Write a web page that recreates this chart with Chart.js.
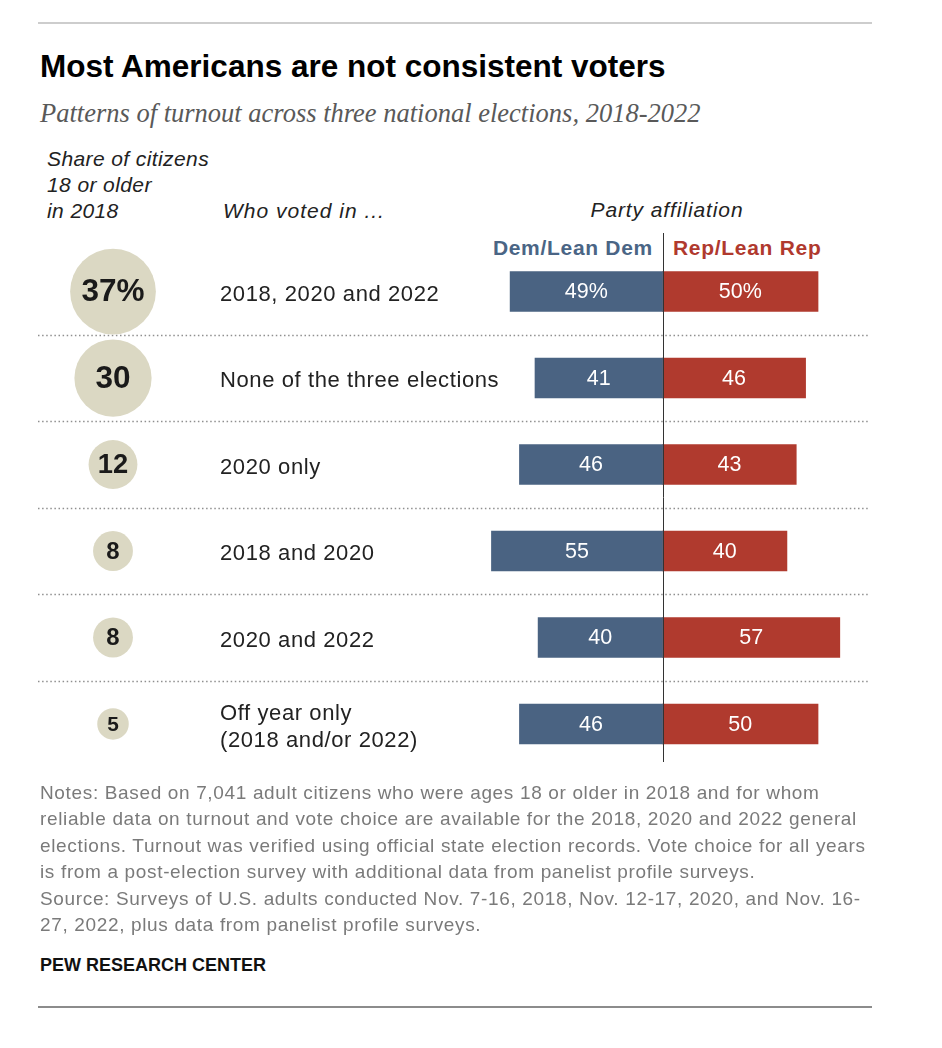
<!DOCTYPE html>
<html>
<head>
<meta charset="utf-8">
<script src="https://cdn.jsdelivr.net/npm/chart.js@4.4.1/dist/chart.umd.min.js"></script>
<style>
body { margin: 0; background: #fff; width: 942px; height: 1048px; position: relative; overflow: hidden;
       font-family: "Liberation Sans", Arial, sans-serif; color: #222; }
.abs { position: absolute; white-space: nowrap; }
#title { left: 40px; top: 48px; font-size: 31.5px; line-height: 36px; font-weight: bold; color: #000; }
#subtitle { left: 40px; top: 97.5px; font-size: 26.5px; line-height: 30px; font-style: italic; color: #595959;
            font-family: "Liberation Serif", "Times New Roman", serif; }
.hdr { font-size: 21px; line-height: 26px; font-style: italic; color: #222; letter-spacing: 0.4px; }
.party { font-size: 21px; line-height: 26px; font-weight: bold; letter-spacing: 0.7px; }
#notes { left: 40px; top: 779.5px; font-size: 19px; line-height: 26.6px; color: #7a7a7a; letter-spacing: 0.65px; }
#pew { left: 40px; top: 953px; font-size: 18px; line-height: 24px; font-weight: bold; color: #111; }
.rule { position: absolute; left: 38px; width: 834px; }
canvas { position: absolute; }
</style>
</head>
<body>
<div class="rule" style="top:22px;height:2px;background:#cdcdcd"></div>
<div id="title" class="abs">Most Americans are not consistent voters</div>
<div id="subtitle" class="abs">Patterns of turnout across three national elections, 2018-2022</div>
<div class="abs hdr" style="left:47px;top:146px">Share of citizens<br>18 or older<br>in 2018</div>
<div class="abs hdr" style="left:223px;top:198px;letter-spacing:1px">Who voted in ...</div>
<div class="abs hdr" style="left:547px;top:197px;width:240px;text-align:center;letter-spacing:0.9px">Party affiliation</div>
<div class="abs party" style="left:433px;top:235px;width:220px;text-align:right;color:#4a6585">Dem/Lean Dem</div>
<div class="abs party" style="left:673px;top:235px;color:#b0392e">Rep/Lean Rep</div>

<canvas id="bars" width="834" height="590" style="left:38px;top:200px"></canvas>
<canvas id="shares" width="180" height="590" style="left:23px;top:200px"></canvas>

<div id="notes" class="abs">Notes: Based on 7,041 adult citizens who were ages 18 or older in 2018 and for whom<br>reliable data on turnout and vote choice are available for the 2018, 2020 and 2022 general<br>elections. Turnout was verified using official state election records. Vote choice for all years<br>is from a post-election survey with additional data from panelist profile surveys.<br>Source: Surveys of U.S. adults conducted Nov. 7-16, 2018, Nov. 12-17, 2020, and Nov. 16-<br>27, 2022, plus data from panelist profile surveys.</div>
<div id="pew" class="abs">PEW RESEARCH CENTER</div>
<div class="rule" style="top:1006px;height:1.5px;background:#8c8c8c"></div>

<script>
let rowLabels = ["2018, 2020 and 2022", "None of the three elections", "2020 only",
    "2018 and 2020", "2020 and 2022", ["Off year only", "(2018 and/or 2022)"]];
let shares = [37, 30, 12, 8, 8, 5];
let demValues = [49, 41, 46, 55, 40, 46];
let repValues = [50, 46, 43, 40, 57, 50];

const FONT = '"Liberation Sans", Arial, sans-serif';
const PAD = {top: 48.3, bottom: 22.8};

// dotted separators, row labels, center line and bar labels
let barDecor = {
    id: 'barDecor',
    beforeDatasetsDraw(chart) {
        let ctx = chart.ctx;
        let y = chart.scales.y;
        ctx.save();
        ctx.strokeStyle = "#8f8f8f";
        ctx.lineWidth = 1.5;
        ctx.setLineDash([1.5, 2.6]);
        for (let i = 0; i < rowLabels.length - 1; i++) {
            let py = Math.round((y.getPixelForValue(i) + y.getPixelForValue(i + 1)) / 2) + 0.5;
            ctx.beginPath();
            ctx.moveTo(0, py);
            ctx.lineTo(830, py);
            ctx.stroke();
        }
        ctx.setLineDash([]);

        // row labels, placed with the category scale
        ctx.fillStyle = "#222";
        ctx.font = "22px " + FONT;
        ctx.letterSpacing = "0.6px";
        ctx.textAlign = "left";
        ctx.textBaseline = "middle";
        chart.data.labels.forEach(function (lab, i) {
            let lines = Array.isArray(lab) ? lab : [lab];
            let cy = y.getPixelForValue(i) + 3;
            lines.forEach(function (t, k) {
                ctx.fillText(t, 182, cy + (k - (lines.length - 1) / 2) * 27);
            });
        });
        ctx.letterSpacing = "0px";
        ctx.restore();
    },
    afterDatasetsDraw(chart) {
        let ctx = chart.ctx;
        ctx.save();
        ctx.fillStyle = "#fff";
        ctx.font = "21.5px " + FONT;
        ctx.textAlign = "center";
        ctx.textBaseline = "middle";
        chart.data.datasets.forEach(function (ds, d) {
            chart.getDatasetMeta(d).data.forEach(function (bar, i) {
                let v = Math.abs(ds.data[i]);
                let txt = i === 0 ? v + "%" : "" + v;
                ctx.fillText(txt, (bar.x + bar.base) / 2, bar.y + 1);
            });
        });
        let x0 = Math.round(chart.scales.x.getPixelForValue(0)) + 0.5;
        ctx.strokeStyle = "#333";
        ctx.lineWidth = 1;
        ctx.beginPath();
        ctx.moveTo(x0, 33);
        ctx.lineTo(x0, 562);
        ctx.stroke();
        ctx.restore();
    }
};

new Chart(document.getElementById("bars").getContext("2d"), {
    type: "bar",
    data: {
        labels: rowLabels,
        datasets: [
            {
                label: "Dem/Lean Dem",
                data: demValues.map(v => -v),
                backgroundColor: "#4a6382",
                grouped: false,
                barThickness: 40,
            },
            {
                label: "Rep/Lean Rep",
                data: repValues,
                backgroundColor: "#b03a2e",
                grouped: false,
                barThickness: 40,
            }
        ]
    },
    options: {
        indexAxis: "y",
        responsive: false,
        animation: false,
        events: [],
        layout: {
            autoPadding: false,
            padding: {top: PAD.top, bottom: PAD.bottom, left: 437.9, right: 4.2}
        },
        scales: {
            x: {type: "linear", min: -60, max: 66, display: false},
            y: {display: false}
        },
        plugins: {
            legend: {display: false},
            tooltip: {enabled: false}
        }
    },
    plugins: [barDecor]
});

// numbers inside the circles
let bubbleText = {
    id: 'bubbleText',
    afterDatasetsDraw(chart) {
        let ctx = chart.ctx;
        ctx.save();
        ctx.fillStyle = "#1a1a1a";
        ctx.textAlign = "center";
        ctx.textBaseline = "middle";
        chart.getDatasetMeta(0).data.forEach(function (pt, i) {
            let r = pt.options.radius;
            let size = Math.min(31.5, r * 0.75 + 9);
            ctx.font = "bold " + size + "px " + FONT;
            ctx.fillText(i === 0 ? shares[i] + "%" : "" + shares[i], pt.x, pt.y + 1);
        });
        ctx.restore();
    }
};

new Chart(document.getElementById("shares").getContext("2d"), {
    type: "bubble",
    data: {
        datasets: [{
            label: "Share of citizens",
            data: shares.map((v, i) => ({x: 0, y: i})),
            backgroundColor: "#dbd8c3",
            borderWidth: 0,
            clip: false,
            radius: ctx => 7.05 * Math.sqrt(shares[ctx.dataIndex]),
        }]
    },
    options: {
        responsive: false,
        animation: false,
        events: [],
        layout: {autoPadding: false, padding: {top: PAD.top, bottom: PAD.bottom, left: 0, right: 0}},
        scales: {
            x: {min: -1, max: 1, display: false},
            y: {min: -0.5, max: 5.5, reverse: true, display: false}
        },
        plugins: {
            legend: {display: false},
            tooltip: {enabled: false}
        }
    },
    plugins: [bubbleText]
});
</script>
</body>
</html>
